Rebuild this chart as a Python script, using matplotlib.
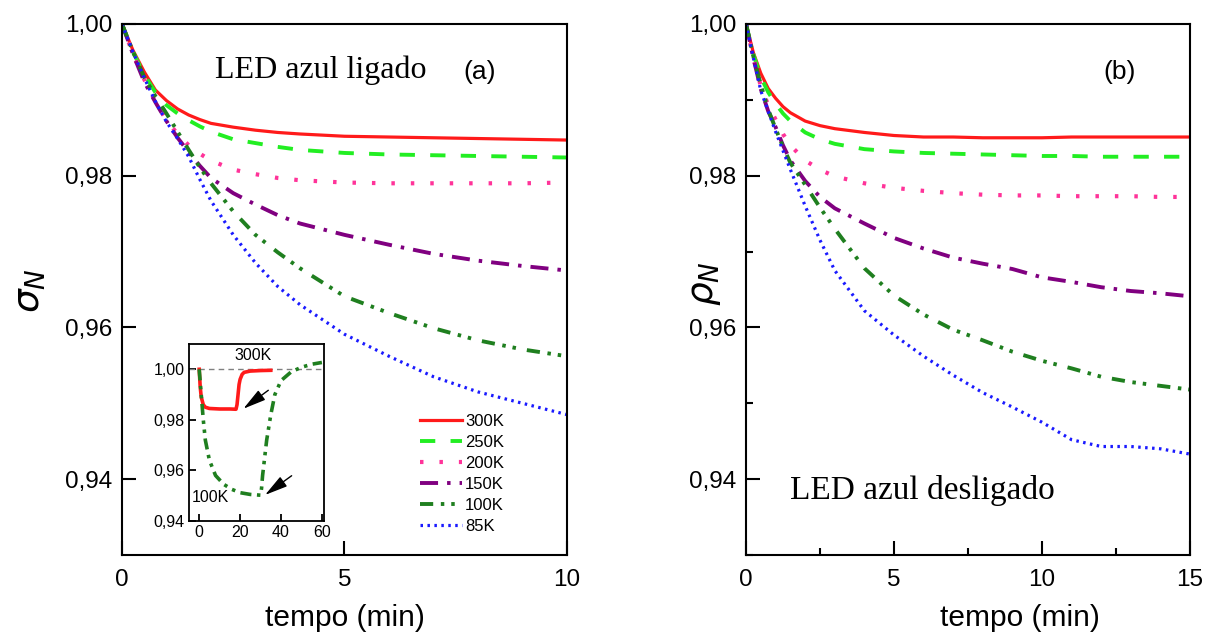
import matplotlib
matplotlib.use("Agg")
import matplotlib.pyplot as plt
from matplotlib.ticker import MultipleLocator, FixedLocator

plt.rcParams["font.family"] = ["Liberation Sans", "DejaVu Sans"]
plt.rcParams["lines.scale_dashes"] = False

# painel (a): LED azul ligado
tempo_a = [0, 0.25, 0.5, 0.75, 1, 1.25, 1.5, 1.75, 2, 2.5, 3, 3.5, 4, 5, 6, 7, 8, 9, 10]
sigma = {
    "300K": [1.0, 0.9965, 0.9937, 0.9913, 0.9899, 0.9888, 0.9880, 0.9874, 0.9869, 0.9864, 0.9860,
             0.9857, 0.9855, 0.9852, 0.9851, 0.9850, 0.9849, 0.9848, 0.9847],
    "250K": [1.0, 0.9963, 0.9933, 0.9910, 0.9893, 0.9882, 0.9873, 0.9865, 0.9858, 0.9848, 0.9843,
             0.9838, 0.9834, 0.9830, 0.9828, 0.9827, 0.9826, 0.9825, 0.9824],
    "200K": [1.0, 0.9960, 0.9927, 0.9898, 0.9873, 0.9855, 0.9840, 0.9829, 0.9820, 0.9808, 0.9802,
             0.9797, 0.9794, 0.9791, 0.9790, 0.9790, 0.9790, 0.9790, 0.9791],
    "150K": [1.0, 0.9960, 0.9924, 0.9897, 0.9872, 0.9850, 0.9831, 0.9813, 0.9797, 0.9777, 0.9762,
             0.9748, 0.9737, 0.9722, 0.9709, 0.9697, 0.9688, 0.9681, 0.9675],
    "100K": [1.0, 0.9963, 0.9930, 0.9905, 0.9882, 0.9858, 0.9834, 0.9811, 0.9790, 0.9753, 0.9722,
             0.9699, 0.9678, 0.9641, 0.9619, 0.9599, 0.9583, 0.9571, 0.9562],
    "85K":  [1.0, 0.9963, 0.9929, 0.9898, 0.9871, 0.9849, 0.9825, 0.9795, 0.9767, 0.9722, 0.9685,
             0.9654, 0.9630, 0.9591, 0.9562, 0.9535, 0.9515, 0.9500, 0.9485],
}

# painel (b): LED azul desligado
tempo_b = [0, 0.25, 0.5, 0.75, 1, 1.25, 1.5, 2, 2.5, 3, 4, 5, 6, 7, 8, 9, 10, 11, 12, 13, 14, 15]
rho = {
    "300K": [1.0, 0.9962, 0.9935, 0.9915, 0.9902, 0.9891, 0.9883, 0.9872, 0.9866, 0.9862, 0.9857,
             0.9853, 0.9851, 0.9851, 0.9850, 0.9850, 0.9850, 0.9851, 0.9851, 0.9851, 0.9851, 0.9851],
    "250K": [1.0, 0.9960, 0.9930, 0.9910, 0.9895, 0.9882, 0.9872, 0.9857, 0.9848, 0.9842, 0.9835,
             0.9832, 0.9830, 0.9829, 0.9828, 0.9827, 0.9826, 0.9826, 0.9825, 0.9825, 0.9825, 0.9825],
    "200K": [1.0, 0.9955, 0.9918, 0.9893, 0.9874, 0.9855, 0.9840, 0.9820, 0.9808, 0.9799, 0.9790,
             0.9784, 0.9780, 0.9777, 0.9775, 0.9774, 0.9774, 0.9773, 0.9773, 0.9773, 0.9772, 0.9772],
    "150K": [1.0, 0.9955, 0.9914, 0.9885, 0.9864, 0.9840, 0.9820, 0.9793, 0.9772, 0.9757, 0.9737,
             0.9718, 0.9704, 0.9692, 0.9684, 0.9677, 0.9666, 0.9660, 0.9653, 0.9648, 0.9645, 0.9641],
    "100K": [1.0, 0.9957, 0.9920, 0.9887, 0.9862, 0.9838, 0.9817, 0.9788, 0.9758, 0.9730, 0.9678,
             0.9642, 0.9617, 0.9597, 0.9583, 0.9568, 0.9556, 0.9546, 0.9535, 0.9528, 0.9523, 0.9518],
    "85K":  [1.0, 0.9955, 0.9912, 0.9885, 0.9858, 0.9833, 0.9808, 0.9760, 0.9715, 0.9675, 0.9622,
             0.9590, 0.9562, 0.9537, 0.9514, 0.9495, 0.9475, 0.9452, 0.9443, 0.9443, 0.9440, 0.9433],
}

# inset: ciclo liga/desliga
tempo_in_300 = [0, 0.5, 1, 2, 3, 5, 10, 15, 18, 18.5, 19, 19.5, 20, 21, 22, 25, 30, 35]
inset_300 = [1.0, 0.993, 0.989, 0.986, 0.985, 0.9845, 0.9843, 0.9843, 0.9842, 0.986, 0.990,
             0.994, 0.996, 0.998, 0.9988, 0.9993, 0.9995, 0.9996]
tempo_in_100 = [0, 1, 2, 3, 5, 8, 12, 16, 20, 25, 30, 30.5, 31, 32, 33, 35, 37, 40, 45, 50, 55, 60]
inset_100 = [1.0, 0.990, 0.980, 0.972, 0.964, 0.958, 0.9545, 0.9525, 0.9512, 0.9505, 0.9502,
             0.953, 0.958, 0.965, 0.972, 0.982, 0.990, 0.9955, 0.9990, 1.0008, 1.0020, 1.0027]

estilos = {
    "300K": dict(color="#ff1a1a", lw=2.3, linestyle="-"),
    "250K": dict(color="#22ee22", lw=2.8, linestyle=(0, (11, 11))),
    "200K": dict(color="#ff3399", lw=3.0, linestyle=(0, (2.5, 11.5))),
    "150K": dict(color="#800080", lw=2.8, linestyle=(0, (13, 6.5, 2.5, 6.5))),
    "100K": dict(color="#1f7f1f", lw=2.8, linestyle=(0, (9.5, 5.5, 2.5, 5, 2.5, 8))),
    "85K":  dict(color="#1a1aff", lw=2.3, linestyle=(0, (1.8, 3.2))),
}


def estilo_eixo(ax, menores=False):
    for s in ax.spines.values():
        s.set_linewidth(1.5)
    ax.tick_params(direction="in", length=10, width=1.5, labelsize=17.5, pad=7,
                   top=False, right=False)
    ax.tick_params(axis="x", pad=10)
    ax.tick_params(which="minor", direction="in", length=5, width=1.5, top=False, right=False)
    ax.set_ylim(0.93, 1.00)
    ax.yaxis.set_major_locator(FixedLocator([0.94, 0.96, 0.98, 1.00]))
    ax.yaxis.set_major_formatter(lambda v, p: f"{v:.2f}".replace(".", ","))
    if menores:
        ax.yaxis.set_minor_locator(MultipleLocator(0.01))
        ax.xaxis.set_minor_locator(MultipleLocator(2.5))


fig = plt.figure(figsize=(12.16, 6.38), dpi=100)
ax1 = fig.add_axes([0.1003, 0.1301, 0.366, 0.8323])
ax2 = fig.add_axes([0.6135, 0.1301, 0.3651, 0.8323])

for nome, ys in sigma.items():
    ax1.plot(tempo_a, ys, label=nome, **estilos[nome])
for nome, ys in rho.items():
    ax2.plot(tempo_b, ys, label=nome, **estilos[nome])

estilo_eixo(ax1)
ax1.set_xlim(0, 10)
ax1.xaxis.set_major_locator(MultipleLocator(5))
estilo_eixo(ax2, menores=True)
ax2.set_xlim(0, 15)
ax2.xaxis.set_major_locator(MultipleLocator(5))

for ax, xl in ((ax1, 0.5), (ax2, 0.617)):
    ax.set_xlabel("tempo (min)", fontsize=21.5)
    ax.xaxis.set_label_coords(xl, -0.093)

fig.text(30 / 1216, 1 - 291 / 638, r"$\sigma_N$", rotation=90, ha="center", va="center", fontsize=27)
fig.text(705 / 1216, 1 - 284 / 638, r"$\rho_N$", rotation=90, ha="center", va="center", fontsize=27)

ax1.text(0.209, 0.913, "LED azul ligado", transform=ax1.transAxes, family="Liberation Serif",
         fontsize=23, va="center", ha="left")
ax1.text(0.766, 0.910, "(a)", transform=ax1.transAxes, fontsize=19, va="center", ha="left")
ax2.text(0.804, 0.910, "(b)", transform=ax2.transAxes, fontsize=19, va="center", ha="left")
ax2.text(0.099, 0.122, "LED azul desligado", transform=ax2.transAxes, family="Liberation Serif",
         fontsize=24, va="center", ha="left")

ax1.legend(loc="upper left", bbox_to_anchor=(0.67, 0.265), frameon=False, fontsize=12,
           handlelength=2.5, handletextpad=0.2, labelspacing=0.36, borderpad=0, borderaxespad=0)

# inset
axi = fig.add_axes([0.1554, 0.1834, 0.111, 0.2774])
axi.axhline(1.0, color="gray", lw=1, linestyle=(0, (4, 3)))
axi.plot(tempo_in_300, inset_300, color="#ff1a1a", lw=2.6)
axi.plot(tempo_in_100, inset_100, color="#1f7f1f", lw=2.6, linestyle=(0, (8, 4, 2.5, 4, 2.5, 4)))
axi.set_xlim(-5, 61)
axi.set_ylim(0.94, 1.01)
axi.xaxis.set_major_locator(FixedLocator([0, 20, 40, 60]))
axi.yaxis.set_major_locator(FixedLocator([0.94, 0.96, 0.98, 1.00]))
axi.yaxis.set_major_formatter(lambda v, p: f"{v:.2f}".replace(".", ","))
for s in axi.spines.values():
    s.set_linewidth(1.3)
axi.tick_params(direction="in", length=5, width=1.3, labelsize=11.5, pad=3, top=False, right=False)
axi.text(26.3, 1.0056, "300K", fontsize=11.5, ha="center", va="center")
axi.text(5.4, 0.9491, "100K", fontsize=11.5, ha="center", va="center")
seta = dict(arrowstyle="-|>,head_length=0.7,head_width=0.18", color="black", lw=1,
            mutation_scale=20, shrinkA=0, shrinkB=0)
axi.annotate("", xy=(21.6, 0.9844), xytext=(33.8, 0.9917), arrowprops=seta)
axi.annotate("", xy=(32.2, 0.9503), xytext=(45.2, 0.9579), arrowprops=seta)

fig.savefig("out.png", dpi=100)
